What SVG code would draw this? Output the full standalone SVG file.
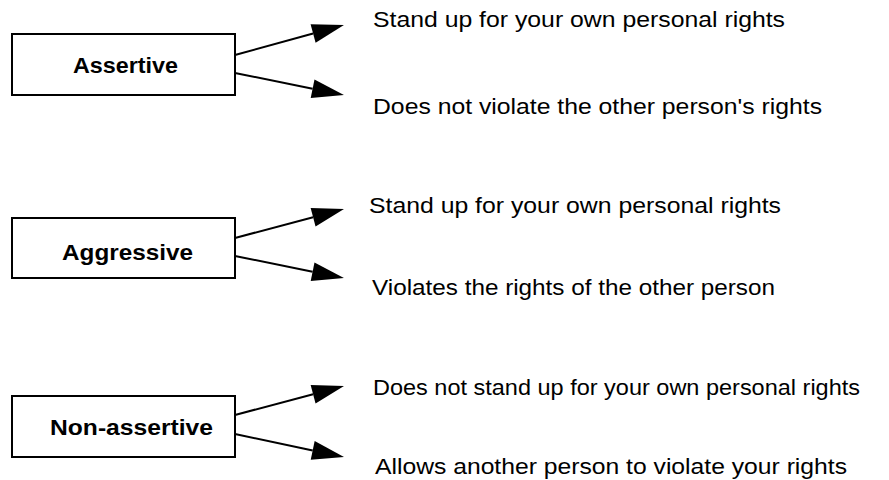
<svg xmlns="http://www.w3.org/2000/svg" width="889" height="480" viewBox="0 0 889 480">
<style>
.box{fill:#fff;stroke:#000;stroke-width:2}
.lbl{font-family:"Liberation Sans",Arial,Helvetica,sans-serif;font-weight:bold;font-size:22.5px;fill:#000}
.txt{font-family:"Liberation Sans",Arial,Helvetica,sans-serif;font-size:22px;fill:#000}
.con{stroke:#000;stroke-width:2;fill:none;marker-end:url(#ah)}
</style>
<defs>
<marker id="ah" markerUnits="userSpaceOnUse" markerWidth="34" markerHeight="20" refX="0" refY="10" orient="auto" overflow="visible">
<path d="M0,0.5 L32,10 L0,19.5 z" fill="#000"/>
</marker>
</defs>
<rect width="889" height="480" fill="#fff"/>
<g id="assertive">
<rect class="box" x="12" y="34" width="223" height="61"/>
<text class="lbl" x="73" y="73" textLength="105" lengthAdjust="spacingAndGlyphs">Assertive</text>
</g>
<g id="aggressive">
<rect class="box" x="12" y="218" width="223" height="60"/>
<text class="lbl" x="62" y="260" textLength="131" lengthAdjust="spacingAndGlyphs">Aggressive</text>
</g>
<g id="nonassertive">
<rect class="box" x="12" y="396" width="223" height="61"/>
<text class="lbl" x="50" y="435" textLength="163" lengthAdjust="spacingAndGlyphs">Non-assertive</text>
</g>
<g id="t1"><text class="txt" x="373" y="27" textLength="412" lengthAdjust="spacingAndGlyphs">Stand up for your own personal rights</text></g>
<g id="t2"><text class="txt" x="373" y="114" textLength="449" lengthAdjust="spacingAndGlyphs">Does not violate the other person's rights</text></g>
<g id="t3"><text class="txt" x="369" y="213" textLength="412" lengthAdjust="spacingAndGlyphs">Stand up for your own personal rights</text></g>
<g id="t4"><text class="txt" x="372" y="295" textLength="403" lengthAdjust="spacingAndGlyphs">Violates the rights of the other person</text></g>
<g id="t5"><text class="txt" x="373" y="395" textLength="487" lengthAdjust="spacingAndGlyphs">Does not stand up for your own personal rights</text></g>
<g id="t6"><text class="txt" x="375" y="474" textLength="472" lengthAdjust="spacingAndGlyphs">Allows another person to violate your rights</text></g>
<g id="connectors">
<line class="con" x1="235" y1="55" x2="313.1" y2="33.5"/>
<line class="con" x1="235" y1="73" x2="312.6" y2="88.7"/>
<line class="con" x1="235" y1="238" x2="313.1" y2="217.2"/>
<line class="con" x1="235" y1="256" x2="312.6" y2="271.7"/>
<line class="con" x1="235" y1="415" x2="313.1" y2="394.2"/>
<line class="con" x1="235" y1="434" x2="312.7" y2="450.4"/>
</g>
</svg>
